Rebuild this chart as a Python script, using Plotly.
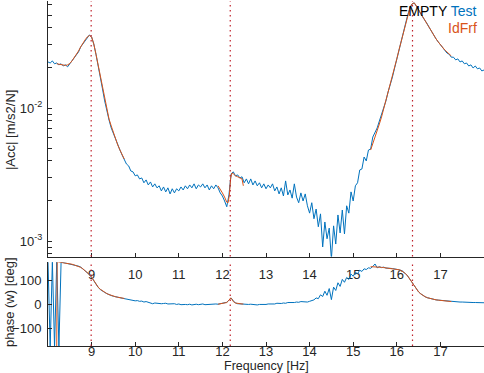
import numpy as np
import plotly.graph_objects as go

# ---------------- data ----------------
freq = np.round(np.arange(8.0, 18.0001, 0.05), 2)   # measurement grid [Hz]

test_mag_e3 = [
    22.2, 21.8, 22.6, 21.5, 21.8, 21.1, 21.5, 20.7, 21.1, 20.4,
    21.5, 22.6, 23.8, 24.6, 26.4, 28.8, 30.3, 32.5, 34.2, 35.4,
    34.2, 30.3, 25.4, 21.1, 17.1, 13.9, 11.3, 9.32, 8.12, 7.08,
    6.38, 5.85, 5.27, 4.83, 4.43, 4.13, 3.79, 3.67, 3.36, 3.31,
    3.09, 3.14, 2.93, 2.98, 2.74, 2.88, 2.64, 2.78, 2.55, 2.69,
    2.51, 2.60, 2.38, 2.55, 2.34, 2.51, 2.26, 2.47, 2.30, 2.47,
    2.38, 2.55, 2.42, 2.60, 2.47, 2.64, 2.51, 2.69, 2.47, 2.64,
    2.55, 2.69, 2.51, 2.64, 2.42, 2.60, 2.47, 2.64, 2.51, 2.30,
    2.18, 2.00, 1.81, 2.22, 3.20, 3.31, 3.09, 3.14, 2.98, 3.04,
    2.74, 2.93, 2.69, 2.93, 2.64, 2.83, 2.60, 2.74, 2.51, 2.69,
    2.47, 2.64, 2.51, 2.69, 2.38, 2.55, 2.26, 2.51, 2.18, 2.83,
    2.22, 2.42, 2.10, 2.69, 2.14, 1.94, 2.30, 2.00, 2.26, 1.84,
    1.62, 1.94, 1.47, 1.74, 1.28, 1.60, 0.902, 1.39, 1.04, 1.25,
    0.732, 1.30, 0.949, 1.57, 1.15, 1.71, 1.13, 1.84, 1.62, 2.34,
    2.00, 2.60, 2.74, 3.42, 3.48, 4.28, 4.00, 4.83, 4.91, 6.05,
    6.49, 7.08, 7.98, 8.86, 10.2, 11.3, 13.2, 14.9, 17.1, 20.0,
    23.4, 27.3, 31.9, 37.3, 43.6, 50.0, 56.5, 60.6, 61.7, 58.5,
    54.6, 50.9, 48.3, 45.1, 42.8, 40.0, 37.3, 34.8, 33.1, 31.4,
    29.8, 28.8, 27.3, 25.9, 25.4, 24.1, 24.1, 23.0, 23.4, 22.2,
    22.6, 21.5, 21.8, 20.7, 21.1, 20.0, 20.7, 19.7, 20.0, 19.0,
    19.3,
]
test_phase = [
    178, -178, 178, -178, 178, -178, 176, 174, 173, 172,
    170, 167, 164, 161, 159, 155, 148, 141, 133, 124,
    113, 98, 83, 71, 62, 55, 50, 45, 40, 37,
    34, 31, 29, 28, 26, 24, 22, 21, 18, 17,
    15, 16, 13, 14, 10, 12, 8, 6, 3, 6,
    4, 5, 3, 4, 5, 2, 3, 1, 3, 0,
    2, -1, 1, 0, -1, 1, -2, 0, 1, -1,
    0, 2, -1, 0, 1, -1, 0, 2, 1, 3,
    4, 5, 9, 18, 27, 15, 6, 3, 2, 3,
    1, 2, 0, 1, -1, 0, -2, 0, -1, 1,
    0, 2, 1, 3, 2, 5, 3, 4, 6, 5,
    8, 7, 9, 8, 10, 9, 12, 11, 13, 10,
    13, 15, 19, 27, 24, 40, 33, 55, 38, 66,
    20, 72, 58, 90, 75, 104, 92, 112, 104, 126,
    117, 133, 128, 142, 137, 148, 145, 152, 150, 158,
    168, 152, 157, 153, 155, 151, 152, 150, 149, 148,
    146, 144, 141, 136, 128, 118, 105, 90, 76, 63,
    52, 44, 37, 32, 28, 25, 22, 20, 19, 18,
    17, 16, 15, 14, 13, 12, 12, 11, 11, 10,
    10, 9, 9, 9, 8, 8, 8, 8, 7, 7,
    7,
]

# identified FRF (three mode bands)
fit1_freq = np.round(np.arange(8.20, 9.7501, 0.05), 2)
fit1_mag_e3 = [21.5, 21.3, 21.1, 20.9, 20.9, 21.1, 21.6, 22.6, 23.8, 25.0, 26.8, 28.8, 31.0, 32.5, 34.2, 35.1,
               34.2, 30.3, 25.4, 21.1, 17.1, 13.9, 11.5, 9.66, 8.26, 7.33, 6.49, 5.85, 5.27, 4.83, 4.43, 4.13]
fit1_ph_freq = [8.20, 8.21] + list(np.round(np.arange(8.25, 9.7501, 0.05), 2))
fit1_phase = [-178, 178, 176, 175, 174, 173, 172, 170, 167, 164, 161, 158, 154, 148, 141, 133, 124,
              113, 99, 84, 72, 63, 56, 50, 45, 41, 37, 34, 32, 30, 28, 26, 25]

fit2_freq = [11.90, 11.95, 12.00, 12.05, 12.10, 12.13, 12.16, 12.19, 12.22, 12.25, 12.30, 12.35, 12.40, 12.45, 12.48]
fit2_mag_e3 = [2.60, 2.47, 2.30, 2.14, 1.96, 1.94, 2.22, 2.98, 3.25, 3.20, 3.09, 3.04, 2.98, 2.93, 2.60]
fit2_phase = [1, 2, 3, 5, 8, 13, 22, 27, 22, 12, 6, 4, 3, 2, 2]

fit3_freq = np.round(np.arange(15.40, 17.2501, 0.05), 2)
fit3_mag_e3 = [4.83, 5.36, 6.05, 6.72, 7.58, 8.56, 9.83, 11.3, 12.9, 14.9, 17.1, 20.0,
               23.4, 27.3, 31.9, 37.3, 43.6, 50.0, 56.5, 60.6, 61.7, 58.5,
               54.6, 50.9, 48.3, 45.1, 42.5, 40.0, 37.3, 35.1, 33.1, 31.4,
               29.8, 28.5, 27.3, 26.4, 25.4, 24.6]
fit3_phase = [157, 157, 156, 155, 154, 154, 153, 152, 151, 150, 149, 148,
              146, 144, 141, 136, 128, 118, 105, 90, 76, 63,
              52, 44, 37, 32, 28, 25, 22, 20, 19, 18,
              17, 16, 15, 14, 13, 12]

mode_freqs = [8.99, 12.18, 16.36]
x_ticks = [9, 10, 11, 12, 13, 14, 15, 16, 17]
mag_tickvals = [0.001, 0.01]
mag_ticktext = ["10<sup>-3</sup>", "10<sup>-2</sup>"]
mag_minor = [0.0008, 0.0009, 0.002, 0.003, 0.004, 0.005, 0.006, 0.007, 0.008, 0.009,
             0.02, 0.03, 0.04, 0.05, 0.06]
phase_ticks = [-100, 0, 100]

# ---------------- style ----------------
BLUE = "#0072BD"
ORANGE = "#D95319"
DOT = "#C0202A"
AX = "#262626"
FONT = "Liberation Sans, Arial, sans-serif"

fig = go.Figure()
e3 = lambda a: [v * 1e-3 for v in a]

fig.add_trace(go.Scatter(x=freq, y=e3(test_mag_e3), mode="lines", line=dict(color=BLUE, width=1),
                         xaxis="x", yaxis="y", showlegend=False))
for f, m in [(fit1_freq, fit1_mag_e3), (fit2_freq, fit2_mag_e3), (fit3_freq, fit3_mag_e3)]:
    fig.add_trace(go.Scatter(x=f, y=e3(m), mode="lines", line=dict(color=ORANGE, width=1),
                             xaxis="x", yaxis="y", showlegend=False))

fig.add_trace(go.Scatter(x=freq, y=test_phase, mode="lines", line=dict(color=BLUE, width=1),
                         xaxis="x2", yaxis="y2", showlegend=False))
for f, p in [(fit1_ph_freq, fit1_phase), (fit2_freq, fit2_phase), (fit3_freq, fit3_phase)]:
    fig.add_trace(go.Scatter(x=f, y=p, mode="lines", line=dict(color=ORANGE, width=1),
                             xaxis="x2", yaxis="y2", showlegend=False))

shapes = []
for mf in mode_freqs:
    for xr, yr in [("x", "y domain"), ("x2", "y2 domain")]:
        shapes.append(dict(type="line", xref=xr, yref=yr, x0=mf, x1=mf, y0=0, y1=1,
                           line=dict(color=DOT, width=1.2, dash="1.5px,3.5px"), layer="above"))

axis_common = dict(showline=True, linecolor=AX, linewidth=1, ticks="inside", ticklen=4,
                   tickcolor=AX, showgrid=False, zeroline=False, mirror=False,
                   tickfont=dict(family=FONT, size=13, color=AX))

fig.update_layout(
    width=484, height=373,
    margin=dict(l=48, r=0, t=1, b=27),
    paper_bgcolor="white", plot_bgcolor="rgba(0,0,0,0)",
    font=dict(family=FONT, size=13, color=AX),
    xaxis=dict(range=[8, 18], domain=[0, 1], anchor="y", tickvals=x_ticks, ticklabelstandoff=6,
               **axis_common),
    yaxis=dict(type="log", range=[-3.1165, -1.1955], domain=[0.2594, 1], anchor="x",
               tickvals=mag_tickvals, ticktext=mag_ticktext, ticklabelstandoff=2,
               minor=dict(tickmode="array", tickvals=mag_minor, ticks="inside", ticklen=4,
                          tickcolor=AX, showgrid=False),
               **axis_common),
    xaxis2=dict(range=[8, 18], domain=[0, 1], anchor="y2", tickvals=x_ticks, ticklabelstandoff=-7,
                **axis_common),
    yaxis2=dict(range=[-172.5, 175], domain=[0, 0.2426], anchor="x2", tickvals=phase_ticks,
                ticklabelstandoff=3, **axis_common),
    shapes=shapes,
    annotations=[
        dict(text="EMPTY <span style='color:%s'>Test</span>" % BLUE, xref="paper", yref="paper",
             x=0.9862, y=0.971, xanchor="right", yanchor="middle", showarrow=False,
             font=dict(family=FONT, size=14, color="black")),
        dict(text="IdFrf", xref="paper", yref="paper", x=0.9885, y=0.9217, xanchor="right",
             yanchor="middle", showarrow=False, font=dict(family=FONT, size=14, color=ORANGE)),
        dict(text="|Acc| [m/s2/N]", xref="paper", yref="paper", x=-0.0872, y=0.626, textangle=-90,
             xanchor="center", yanchor="middle", showarrow=False, font=dict(family=FONT, size=13, color=AX)),
        dict(text="phase (w) [deg]", xref="paper", yref="paper", x=-0.0894, y=0.1275, textangle=-90,
             xanchor="center", yanchor="middle", showarrow=False, font=dict(family=FONT, size=13, color=AX)),
        dict(text="Frequency [Hz]", xref="paper", yref="paper", x=0.5, y=-0.0585,
             xanchor="center", yanchor="middle", showarrow=False, font=dict(family=FONT, size=12.5, color=AX)),
    ],
)

fig.write_html("out.html", config={"displayModeBar": False},
               post_script="document.body.style.margin='0px';document.body.style.padding='0px';")
